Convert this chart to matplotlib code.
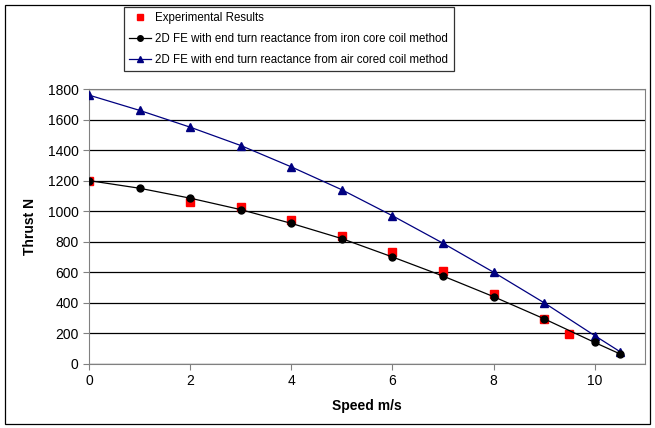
import matplotlib.pyplot as plt
from matplotlib.patches import Rectangle

plt.rcParams['font.family'] = ['Liberation Sans', 'DejaVu Sans']

exp_speed = [0, 2, 3, 4, 5, 6, 7, 8, 9, 9.5]
exp_thrust = [1200, 1060, 1030, 940, 840, 730, 605, 460, 295, 195]

fe_speed = [0, 1, 2, 3, 4, 5, 6, 7, 8, 9, 10, 10.5]
iron_thrust = [1200, 1150, 1085, 1010, 920, 820, 700, 575, 440, 295, 140, 65]
air_thrust = [1760, 1660, 1550, 1430, 1290, 1140, 970, 790, 600, 400, 185, 80]

labels = ['Experimental Results',
          '2D FE with end turn reactance from iron core coil method',
          '2D FE with end turn reactance from air cored coil method']

fig = plt.figure(figsize=(6.55, 4.28), dpi=100)
ax = fig.add_axes([0.136, 0.150, 0.849, 0.642])

ax.plot(fe_speed, air_thrust, color='#000080', lw=0.9, marker='^', ms=6,
        label=labels[2], zorder=3)
ax.plot(fe_speed, iron_thrust, color='black', lw=0.9, marker='o', ms=5,
        label=labels[1], zorder=4)
ax.plot(exp_speed, exp_thrust, ls='none', color='red', marker='s', ms=6,
        label=labels[0], zorder=2)

ax.set_xlim(0, 11)
ax.set_ylim(0, 1800)
ax.set_xticks([0, 2, 4, 6, 8, 10])
ax.set_yticks(range(0, 1801, 200))
ax.yaxis.grid(True, color='black', lw=0.9)
ax.set_axisbelow(True)
for s in ax.spines.values():
    s.set_color('#808080')
ax.tick_params(colors='#808080', labelcolor='black', labelsize=10, length=4)
ax.set_xlabel('Speed m/s', fontsize=10, fontweight='bold', labelpad=8)
ax.set_ylabel('Thrust N', fontsize=10, fontweight='bold', labelpad=8)

h, l = ax.get_legend_handles_labels()
leg = fig.legend(h[::-1], l[::-1], loc='upper left', bbox_to_anchor=(0.189, 0.983),
                 fontsize=8.3, frameon=True, fancybox=False, edgecolor='black',
                 markerscale=0.8, handlelength=1.9, handletextpad=0.4,
                 borderpad=0.45, labelspacing=0.75, borderaxespad=0)
leg.get_frame().set_linewidth(0.9)

fig.patches.append(Rectangle((0.008, 0.01), 0.985, 0.978, transform=fig.transFigure,
                             fill=False, edgecolor='black', lw=0.9))

fig.savefig('out.png', dpi=100)
